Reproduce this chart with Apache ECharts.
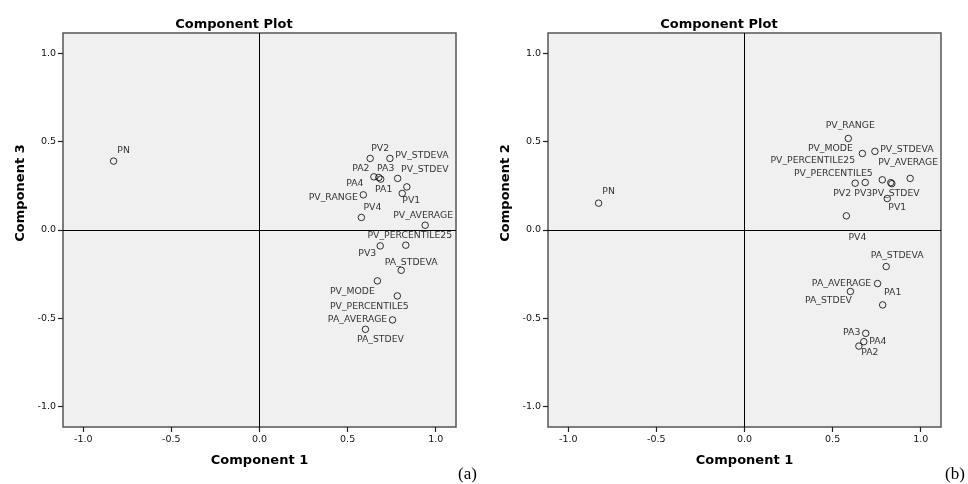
<!DOCTYPE html>
<html>
<head>
<meta charset="utf-8">
<script src="https://cdn.jsdelivr.net/npm/echarts@6/dist/echarts.min.js"></script>
<style>
  html, body { margin: 0; padding: 0; background: #fff; }
  #chart { width: 968px; height: 484px; }
</style>
</head>
<body>
<div id="chart"></div>
<script>
// variables and their loadings on the three components
const varNames = ['PN', 'PV1', 'PV2', 'PV3', 'PV4', 'PA1', 'PA2', 'PA3', 'PA4',
  'PV_STDEVA', 'PV_STDEV', 'PV_RANGE', 'PV_AVERAGE', 'PV_PERCENTILE25', 'PV_MODE',
  'PV_PERCENTILE5', 'PA_STDEVA', 'PA_AVERAGE', 'PA_STDEV'];
const comp1 = [-0.828, 0.810, 0.628, 0.685, 0.578, 0.784, 0.649, 0.688, 0.677,
  0.740, 0.836, 0.589, 0.940, 0.830, 0.669, 0.782, 0.804, 0.755, 0.601];
const comp2 = [0.152, 0.178, 0.265, 0.269, 0.080, -0.424, -0.657, -0.585, -0.632,
  0.445, 0.262, 0.518, 0.292, 0.268, 0.433, 0.284, -0.207, -0.303, -0.348];
const comp3 = [0.390, 0.207, 0.405, -0.090, 0.071, 0.292, 0.301, 0.288, 0.297,
  0.405, 0.244, 0.199, 0.027, -0.086, -0.288, -0.373, -0.228, -0.509, -0.562];
const tickValues = [-1.0, -0.5, 0.0, 0.5, 1.0];

// label placement (pixels from the point), the way the original labels sit
const labelShiftA = {
  PN: [10, -11], PV1: [9, 7], PV2: [10, -10], PV3: [-13, 8], PV4: [11, -10],
  PA1: [-14, 11], PA2: [-13, -8], PA3: [5, -11], PA4: [-24, 6],
  PV_STDEVA: [32, -3], PV_STDEV: [18, -17], PV_RANGE: [-30, 3], PV_AVERAGE: [-2, -10],
  PV_PERCENTILE25: [4, -10], PV_MODE: [-25, 11], PV_PERCENTILE5: [-28, 11],
  PA_STDEVA: [10, -8], PA_AVERAGE: [-35, 0], PA_STDEV: [15, 10]
};
const labelShiftB = {
  PN: [10, -12], PV1: [10, 9], PV2: [-13, 10], PV3: [-2, 11], PV4: [11, 22],
  PA1: [10, -12], PA2: [11, 7], PA3: [-14, -1], PA4: [14, 0],
  PV_STDEVA: [32, -2], PV_STDEV: [4, 10], PV_RANGE: [2, -13], PV_AVERAGE: [-2, -16],
  PV_PERCENTILE25: [-78, -22], PV_MODE: [-32, -5], PV_PERCENTILE5: [-49, -6],
  PA_STDEVA: [11, -11], PA_AVERAGE: [-36, 0], PA_STDEV: [-22, 9]
};

const FONT = 'DejaVu Sans';
const LIM = 1.115;

function makeAxis(gridIndex, isY, name) {
  const axis = {
    type: 'value',
    gridIndex: gridIndex,
    position: isY ? 'left' : 'bottom',
    min: -LIM,
    max: LIM,
    splitLine: { show: false },
    axisLine: { show: false, onZero: false },
    axisTick: {
      show: true, inside: false, length: 5,
      customValues: tickValues,
      lineStyle: { color: '#222', width: 1.2 }
    },
    axisLabel: {
      customValues: tickValues,
      formatter: v => v.toFixed(1),
      color: '#111', fontFamily: FONT, fontSize: 9.5,
      margin: isY ? 7 : 8
    },
    name: name,
    nameLocation: 'middle',
    nameTextStyle: { fontFamily: FONT, fontWeight: 'bold', fontSize: 13, color: '#000' }
  };
  if (isY) {
    axis.nameGap = 36;
    axis.nameTextStyle.padding = [0, 0, 0, 74];
  } else {
    axis.nameGap = 27;
  }
  return axis;
}

function makeSeries(idx, yValues, shifts) {
  return {
    type: 'scatter',
    xAxisIndex: idx,
    yAxisIndex: idx,
    symbol: 'circle',
    symbolSize: 6.5,
    itemStyle: { color: 'rgba(0,0,0,0)', borderColor: '#000', borderWidth: 1 },
    label: {
      show: true, position: 'inside', formatter: '{b}',
      color: '#000', fontFamily: FONT, fontSize: 9.3, textBorderWidth: 0
    },
    emphasis: { disabled: true },
    data: varNames.map((n, i) => ({
      name: n,
      value: [comp1[i], yValues[i]],
      label: { offset: shifts[n] }
    })),
    markLine: {
      silent: true,
      symbol: 'none',
      label: { show: false },
      lineStyle: { color: '#000', width: 1, type: 'solid' },
      emphasis: { disabled: true },
      data: [{ xAxis: 0 }, { yAxis: 0 }]
    }
  };
}

const gridBase = {
  top: 33, width: 393, height: 394, show: true,
  backgroundColor: '#f0f0f0', borderColor: '#555', borderWidth: 1.5
};

const chart = echarts.init(document.getElementById('chart'));
chart.setOption({
  animation: false,
  backgroundColor: '#fff',
  title: [
    { text: 'Component Plot', left: 229, top: 13, textAlign: 'center',
      textStyle: { fontFamily: FONT, fontWeight: 'bold', fontSize: 13, color: '#000' } },
    { text: 'Component Plot', left: 714, top: 13, textAlign: 'center',
      textStyle: { fontFamily: FONT, fontWeight: 'bold', fontSize: 13, color: '#000' } }
  ],
  grid: [
    Object.assign({ left: 63 }, gridBase),
    Object.assign({ left: 548 }, gridBase)
  ],
  xAxis: [makeAxis(0, false, 'Component 1'), makeAxis(1, false, 'Component 1')],
  yAxis: [makeAxis(0, true, 'Component 3'), makeAxis(1, true, 'Component 2')],
  series: [makeSeries(0, comp3, labelShiftA), makeSeries(1, comp2, labelShiftB)],
  graphic: [
    { type: 'text', left: 458, top: 466,
      style: { text: '(a)', font: '17px "Liberation Serif"', fill: '#000' } },
    { type: 'text', left: 945, top: 466,
      style: { text: '(b)', font: '17px "Liberation Serif"', fill: '#000' } }
  ]
});
</script>
</body>
</html>
